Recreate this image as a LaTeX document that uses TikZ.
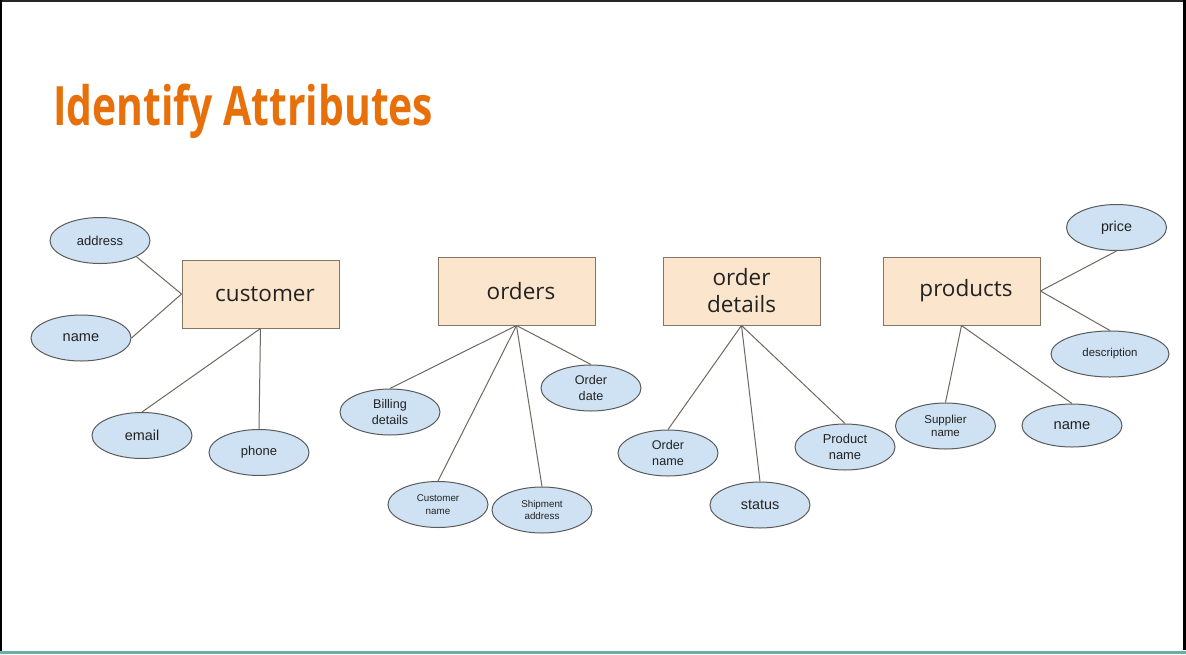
\documentclass[tikz,border=0pt]{standalone}
\usepackage{fontspec}
\usepackage{graphicx}
\usetikzlibrary{shapes.geometric}
\setmainfont{Liberation Sans}
\newfontfamily\entityfont{Open Sans}
\newfontfamily\headfont{Open Sans}

\definecolor{headorange}{HTML}{E8700A}
\definecolor{entityfill}{HTML}{FCE5CD}
\definecolor{entityline}{HTML}{857564}
\definecolor{attrfill}{HTML}{CFE2F3}
\definecolor{attrline}{HTML}{5A5A5A}
\definecolor{linkgray}{HTML}{6E6860}
\definecolor{inktext}{HTML}{222222}
\definecolor{footteal}{HTML}{6AAFA6}

\tikzset{
  entity/.style={draw=entityline, fill=entityfill, line width=1pt,
    minimum width=157pt, minimum height=68pt, inner sep=0pt, align=center,
    text=inktext, font=\entityfont\fontsize{22.5}{27}\selectfont},
  attr/.style={ellipse, draw=attrline, fill=attrfill, line width=1pt,
    minimum width=100pt, minimum height=46pt, inner sep=0pt, align=center,
    text=inktext},
  link/.style={draw=linkgray, line width=1pt},
}

\begin{document}
\begin{tikzpicture}[x=1pt,y=-1pt]
\useasboundingbox (0,0) rectangle (1186,654);
\fill[white] (0,0) rectangle (1186,654);

% window frame
\fill[black!85] (0,0) rectangle (1186,1.6);
\fill[black] (0,0) rectangle (2,654);
\fill[black] (1183,0) rectangle (1186,650);
\fill[footteal] (0,650.5) rectangle (1186,654);

% heading
\node[anchor=base west, inner sep=0pt, text=headorange] (heading) at (53,125.5)
  {\resizebox{380pt}{41.5pt}{\headfont\bfseries Identify Attributes}};

% entities
\node[entity] (customer) at (260.5,294) {\hspace*{9pt}customer};
\node[entity] (orders) at (516.5,291) {\hspace*{9pt}orders};
\node[entity] (details) at (741.5,291) {order\\details};
\node[entity] (products) at (961.5,291) {\hspace*{9pt}products};

% customer attributes
\node[attr, font=\fontsize{13}{16}\selectfont] (address) at (100,240.5) {address};
\node[attr, font=\fontsize{14.6}{17}\selectfont] (cname) at (81,338) {name};
\node[attr, font=\fontsize{14.4}{17}\selectfont] (email) at (142,435.5) {email};
\node[attr, font=\fontsize{13}{16}\selectfont] (phone) at (259,452.5) {phone};

% orders attributes
\node[attr, font=\fontsize{12.6}{16}\selectfont] (billing) at (390,412) {Billing\\details};
\node[attr, font=\fontsize{9.8}{12.5}\selectfont] (custname) at (438,504.5) {Customer\\name};
\node[attr, font=\fontsize{9.8}{12.5}\selectfont] (shipment) at (542,510) {Shipment\\address};
\node[attr, font=\fontsize{12.6}{15.5}\selectfont] (odate) at (591,388) {Order\\date};

% order details attributes
\node[attr, font=\fontsize{12.6}{15.7}\selectfont] (oname) at (668,453) {Order\\name};
\node[attr, font=\fontsize{14.4}{17}\selectfont] (status) at (760,505) {status};
\node[attr, font=\fontsize{12.9}{15.7}\selectfont] (pname) at (845,447) {Product\\name};

% products attributes
\node[attr, font=\fontsize{14.3}{17}\selectfont] (price) at (1116.5,227.5) {price};
\node[attr, minimum width=118pt, font=\fontsize{11.4}{14}\selectfont] (descr) at (1110,354) {description};
\node[attr, font=\fontsize{11.5}{13.3}\selectfont] (supplier) at (945.5,426) {Supplier\\name};
\node[attr, minimum height=43pt, font=\fontsize{14.7}{17}\selectfont] (prname) at (1072,425.5) {name};

% connectors
\draw[link] (customer.west) -- (address.-24);
\draw[link] (customer.west) -- (cname.east);
\draw[link] (customer.south) -- (email.north);
\draw[link] (customer.south) -- (phone.north);

\draw[link] (orders.south) -- (billing.north);
\draw[link] (orders.south) -- (custname.north);
\draw[link] (orders.south) -- (shipment.north);
\draw[link] (orders.south) -- (odate.north);

\draw[link] (details.south) -- (oname.north);
\draw[link] (details.south) -- (status.north);
\draw[link] (details.south) -- (pname.north);

\draw[link] (products.east) -- (price.south);
\draw[link] (products.east) -- (descr.north);
\draw[link] (products.south) -- (supplier.north);
\draw[link] (products.south) -- (prname.north);
\end{tikzpicture}
\end{document}
